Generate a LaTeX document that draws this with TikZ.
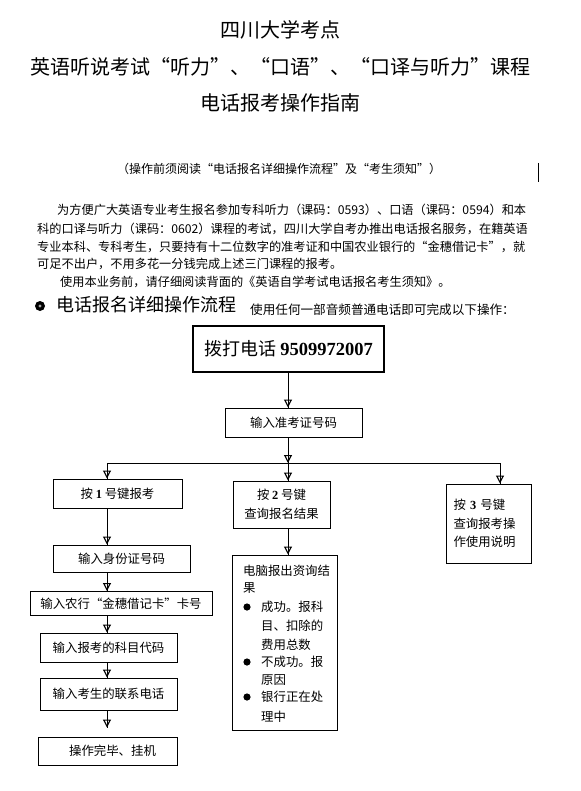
\documentclass[tikz,border=0pt]{standalone}
\usepackage{fontspec}
\setmainfont{Noto Sans CJK SC}
\newfontfamily\numf{Liberation Serif}
\usetikzlibrary{arrows.meta}
\newcommand\fsz[1]{\fontsize{#1}{#1}\selectfont}
\tikzset{
  x=1pt, y=-1pt,
  flow/.style={draw, line width=1pt, inner sep=0pt, font=\fsz{12.4}},
  arr/.style={line width=0.9pt, -{Triangle[open, length=8pt, width=8pt, line width=1.1pt]},
    postaction={draw, arrows=-, line width=0.9pt}},
  conn/.style={line width=0.9pt},
  ttl/.style={font=\fsz{20}, inner sep=0pt},
  para/.style={font=\fsz{12.2}, anchor=west, inner sep=0pt},
  rtxt/.style={font=\fsz{12.4}, anchor=west, inner sep=0pt},
}
\begin{document}
\begin{tikzpicture}
\useasboundingbox (0,0) rectangle (580,791);
\fill[white] (0,0) rectangle (580,791);

% titles
\node[ttl] (t1) at (280,30) {四川大学考点};
\node[ttl] (t2) at (280,67) {英语听说考试“听力”、“口语”、“口译与听力”课程};
\node[ttl] (t3) at (280,103) {电话报考操作指南};

\node[font=\fsz{12}, inner sep=0pt] (note) at (279,169) {（操作前须阅读“电话报名详细操作流程”及“考生须知”）};
\draw[line width=1pt] (538,163) -- (538,182);

% paragraph
\node[para] (p1) at (57,210) {为方便广大英语专业考生报名参加专科听力（课码：0593）、口语（课码：0594）和本};
\node[para] (p2) at (37,229) {科的口译与听力（课码：0602）课程的考试，四川大学自考办推出电话报名服务，在籍英语};
\node[para] (p3) at (37,247) {专业本科、专科考生，只要持有十二位数字的准考证和中国农业银行的“金穗借记卡”，就};
\node[para] (p4) at (37,264) {可足不出户，不用多花一分钱完成上述三门课程的报考。};
\node[para] (p5) at (60,282) {使用本业务前，请仔细阅读背面的《英语自学考试电话报名考生须知》。};

% heading
\fill (40,306) circle (5);
\fill[gray!70] (40,306) circle (1.6);
\node[font=\fsz{18}, anchor=west, inner sep=0pt] (head) at (56,305) {电话报名详细操作流程};
\node[font=\fsz{12.6}, anchor=west, inner sep=0pt] (sub) at (250,310) {使用任何一部音频普通电话即可完成以下操作：};

% flow boxes
\node[flow, line width=1.2pt, minimum width=191, minimum height=46] (call) at (288.5,349)
  {\fsz{18}拨打电话 {\numf\bfseries\fsz{18.5}9509972007}};
\node[flow, minimum width=137, minimum height=29] (zkz) at (293.5,422.5) {输入准考证号码};

\coordinate (br) at (288,463);
\coordinate (bl) at (107,463);
\coordinate (brr) at (500,463);

\node[flow, minimum width=129, minimum height=29] (b1) at (117.5,493.5) {按 {\numf\bfseries 1} 号键报考};
\node[flow, minimum width=97, minimum height=47, align=center, font=\fontsize{12.4}{19}\selectfont] (b2) at (281.5,504.5)
  {按 {\numf\bfseries 2} 号键\\查询报名结果};
\node[flow, minimum width=85, minimum height=79, align=left, text width=70pt, font=\fontsize{12.4}{18.5}\selectfont] (b3) at (488.5,523.5)
  {按 {\numf\bfseries 3} 号键\\查询报考操\\作使用说明};

\node[flow, minimum width=137, minimum height=27] (s1) at (121.5,558.5) {输入身份证号码};
\node[flow, minimum width=182, minimum height=24] (s2) at (121,603.5) {输入农行“金穗借记卡”卡号};
\node[flow, minimum width=137, minimum height=29] (s3) at (108.5,647.5) {输入报考的科目代码};
\node[flow, minimum width=137, minimum height=32] (s4) at (108.5,694) {输入考生的联系电话};
\node[flow, minimum width=139, minimum height=28] (s5) at (107.5,751) {\hspace*{10pt}操作完毕、挂机};

\node[flow, minimum width=105, minimum height=175] (res) at (284.5,642.5) {};
\node[rtxt] (r1) at (243,571) {电脑报出资询结};
\node[rtxt] (r2) at (243,588) {果};
\fill (247,607) circle (3.6);
\node[rtxt] (r3) at (261,607) {成功。报科};
\node[rtxt] (r4) at (261,626) {目、扣除的};
\node[rtxt] (r5) at (261,645) {费用总数};
\fill (247,662) circle (3.6);
\node[rtxt] (r6) at (261,662) {不成功。报};
\node[rtxt] (r7) at (261,680) {原因};
\fill (247,697) circle (3.6);
\node[rtxt] (r8) at (261,697) {银行正在处};
\node[rtxt] (r9) at (261,717) {理中};

% connectors
\draw[arr] (call.south -| br) -- (br |- zkz.north);
\draw[arr] (br |- zkz.south) -- (br);
\draw[conn] (bl) -- (brr);
\draw[arr] (bl) -- (bl |- b1.north);
\draw[arr] (br) -- (br |- b2.north);
\draw[arr] (brr) -- (brr |- b3.north);
\draw[arr] (bl |- b1.south) -- (bl |- s1.north);
\draw[arr] (bl |- s1.south) -- (bl |- s2.north);
\draw[arr] (bl |- s2.south) -- (bl |- s3.north);
\draw[arr] (bl |- s3.south) -- (bl |- s4.north);
\draw[arr, shorten >=9pt] (bl |- s4.south) -- (bl |- s5.north);
\draw[arr] (br |- b2.south) -- (br |- res.north);
\end{tikzpicture}
\end{document}
